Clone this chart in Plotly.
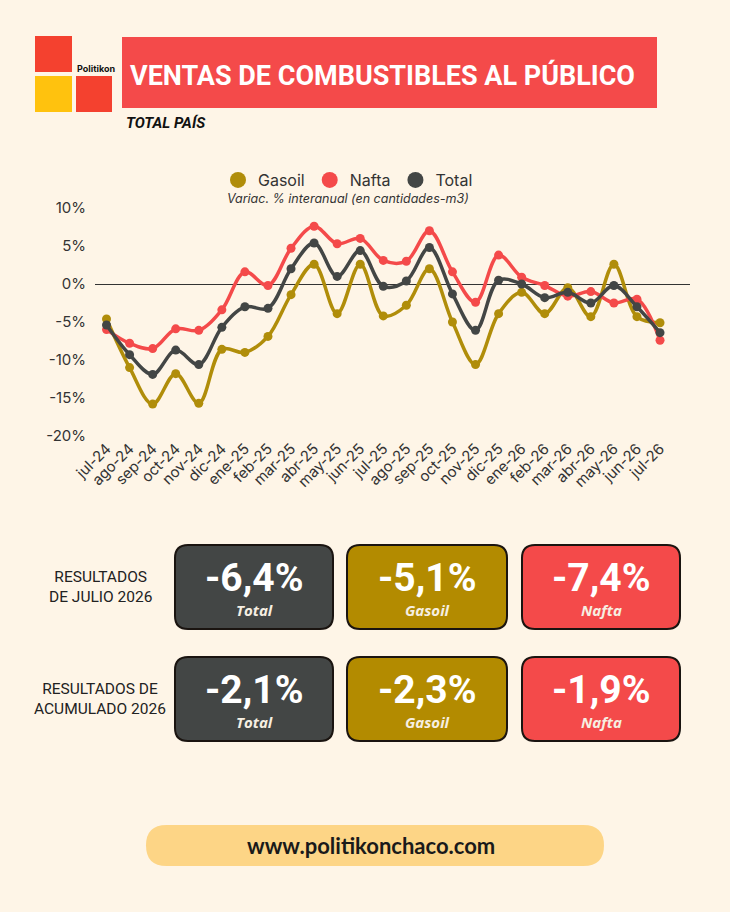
import plotly.graph_objects as go

# ---------------- data ----------------
months = ["jul-24", "ago-24", "sep-24", "oct-24", "nov-24", "dic-24", "ene-25", "feb-25",
          "mar-25", "abr-25", "may-25", "jun-25", "jul-25", "ago-25", "sep-25", "oct-25",
          "nov-25", "dic-25", "ene-26", "feb-26", "mar-26", "abr-26", "may-26", "jun-26",
          "jul-26"]
gasoil = [-4.6, -11.0, -15.8, -11.8, -15.7, -8.6, -9.0, -6.9, -1.4, 2.6, -3.9, 2.6,
          -4.2, -2.8, 2.0, -5.0, -10.6, -3.9, -1.1, -3.9, -0.5, -4.3, 2.6, -4.3, -5.1]
nafta = [-6.0, -7.8, -8.5, -5.9, -6.1, -3.4, 1.6, -0.2, 4.7, 7.6, 5.3, 6.0,
         3.1, 3.0, 7.0, 1.6, -2.4, 3.8, 0.9, -0.2, -1.6, -1.0, -2.5, -2.0, -7.4]
total = [-5.4, -9.3, -11.9, -8.7, -10.6, -5.7, -3.0, -3.2, 2.0, 5.4, 1.0, 4.4,
         -0.3, 0.4, 4.8, -1.3, -6.1, 0.5, 0.0, -1.8, -1.1, -2.5, -0.2, -3.0, -6.4]
y_ticks = [10, 5, 0, -5, -10, -15, -20]
y_tick_labels = ["10%", "5%", "0%", "-5%", "-10%", "-15%", "-20%"]

series_names = ["Gasoil", "Nafta", "Total"]
result_rows = ["RESULTADOS<br>DE JULIO 2026", "RESULTADOS DE<br>ACUMULADO 2026"]
result_month = ["-6,4%", "-5,1%", "-7,4%"]     # Total, Gasoil, Nafta
result_accum = ["-2,1%", "-2,3%", "-1,9%"]
result_labels = ["Total", "Gasoil", "Nafta"]

# ---------------- style ----------------
BG = "#FEF5E7"
C_GAS = "#B08D0A"
C_NAF = "#F44A4A"
C_TOT = "#434645"
BOX_GAS = "#B38B00"
W, H = 730, 912
ML, MR, MT, MB = 95, 40, 208, 476
PW = W - ML - MR
PH = H - MT - MB
COND = "Roboto, sans-serif"


def px(x):
    return (x - ML) / PW


def py(y):
    return (H - MB - y) / PH


def rrect(x0, y0, x1, y1, r):
    pts = [
        ("M", [(x0 + r, y0)]),
        ("L", [(x1 - r, y0)]),
        ("Q", [(x1, y0), (x1, y0 + r)]),
        ("L", [(x1, y1 - r)]),
        ("Q", [(x1, y1), (x1 - r, y1)]),
        ("L", [(x0 + r, y1)]),
        ("Q", [(x0, y1), (x0, y1 - r)]),
        ("L", [(x0, y0 + r)]),
        ("Q", [(x0, y0), (x0 + r, y0)]),
    ]
    s = ""
    for cmd, ps in pts:
        s += cmd + " " + " ".join(f"{px(a):.5f},{py(b):.5f}" for a, b in ps) + " "
    return s + "Z"


fig = go.Figure()

for name, vals, col in [("Gasoil", gasoil, C_GAS), ("Nafta", nafta, C_NAF), ("Total", total, C_TOT)]:
    fig.add_trace(go.Scatter(
        x=months, y=vals, mode="lines+markers", name=name, showlegend=False,
        line=dict(color=col, width=3.5, shape="spline", smoothing=1.0),
        marker=dict(color=col, size=9),
        hovertemplate="%{x}: %{y:.1f}%<extra>" + name + "</extra>",
    ))

for name, col in zip(series_names, [C_GAS, C_NAF, C_TOT]):
    fig.add_trace(go.Scatter(x=[None], y=[None], mode="markers", name=name,
                             marker=dict(color=col, size=16)))

shapes = []
annotations = []

# logo
shapes.append(dict(type="rect", xref="paper", yref="paper", x0=px(35), x1=px(72), y0=py(72), y1=py(36),
                   fillcolor="#F4412F", line=dict(width=0), layer="above"))
shapes.append(dict(type="rect", xref="paper", yref="paper", x0=px(35), x1=px(72), y0=py(112), y1=py(76),
                   fillcolor="#FFC20E", line=dict(width=0), layer="above"))
shapes.append(dict(type="rect", xref="paper", yref="paper", x0=px(76), x1=px(112), y0=py(112), y1=py(76),
                   fillcolor="#F4412F", line=dict(width=0), layer="above"))
annotations.append(dict(xref="paper", yref="paper", x=px(96), y=py(68), text="<b>Politikon</b>",
                        showarrow=False, font=dict(family="Inter, sans-serif", size=9, color="#111"),
                        xanchor="center", yanchor="middle"))

# title banner
shapes.append(dict(type="rect", xref="paper", yref="paper", x0=px(122), x1=px(657), y0=py(108), y1=py(37),
                   fillcolor=C_NAF, line=dict(width=0), layer="above"))
annotations.append(dict(xref="paper", yref="paper", x=px(128), y=py(75),
                        text="<b>VENTAS DE COMBUSTIBLES AL PÚBLICO</b>", showarrow=False,
                        font=dict(family=COND, size=27, color="white"), xanchor="left", yanchor="middle"))
annotations.append(dict(xref="paper", yref="paper", x=px(124), y=py(123),
                        text="<b><i>TOTAL PAÍS</i></b>", showarrow=False,
                        font=dict(family=COND, size=15, color="#111"), xanchor="left", yanchor="middle"))

# subtitle
annotations.append(dict(xref="paper", yref="paper", x=px(348), y=py(198),
                        text="<i>Variac. % interanual (en cantidades-m3)</i>", showarrow=False,
                        font=dict(family="Inter, sans-serif", size=12.5, color="#333"),
                        xanchor="center", yanchor="middle"))

# result boxes
box_x = [(175, 333), (347, 507), (522, 680)]
box_col = [C_TOT, BOX_GAS, C_NAF]
row_y = [(545, 629), (657, 741)]
for ri, (vals, rowlab) in enumerate([(result_month, result_rows[0]), (result_accum, result_rows[1])]):
    y0, y1 = row_y[ri]
    annotations.append(dict(xref="paper", yref="paper", x=px(100), y=py((y0 + y1) / 2),
                            text=rowlab, showarrow=False, align="center",
                            font=dict(family=COND, size=15.5, color="#222"),
                            xanchor="center", yanchor="middle"))
    for bi, (x0, x1) in enumerate(box_x):
        shapes.append(dict(type="path", xref="paper", yref="paper", path=rrect(x0, y0, x1, y1, 13),
                           fillcolor=box_col[bi], line=dict(color="#1A1410", width=2), layer="above"))
        cx = (x0 + x1) / 2
        annotations.append(dict(xref="paper", yref="paper", x=px(cx), y=py(y0 + 33),
                                text="<b>" + vals[bi] + "</b>", showarrow=False,
                                font=dict(family=COND, size=39, color="white"),
                                xanchor="center", yanchor="middle"))
        annotations.append(dict(xref="paper", yref="paper", x=px(cx), y=py(y0 + 65),
                                text="<b><i>" + result_labels[bi] + "</i></b>", showarrow=False,
                                font=dict(family="Open Sans, sans-serif", size=15, color="#F6EFE2"),
                                xanchor="center", yanchor="middle"))

# footer pill
shapes.append(dict(type="path", xref="paper", yref="paper", path=rrect(146, 825, 604, 866, 20.5),
                   fillcolor="#FDD586", line=dict(width=0), layer="above"))
annotations.append(dict(xref="paper", yref="paper", x=px(371), y=py(845),
                        text="<b>www.politikonchaco.com</b>", showarrow=False,
                        font=dict(family="Lato, sans-serif", size=22, color="#1A1A1A"),
                        xanchor="center", yanchor="middle"))

fig.update_layout(
    width=W, height=H,
    margin=dict(l=ML, r=MR, t=MT, b=MB),
    paper_bgcolor=BG, plot_bgcolor=BG,
    font=dict(family="Inter, sans-serif", color="#333"),
    showlegend=True,
    legend=dict(orientation="h", x=px(348), y=py(180), xanchor="center", yanchor="middle",
                font=dict(family="Inter, sans-serif", size=16, color="#333"),
                bgcolor="rgba(0,0,0,0)", itemwidth=30),
    xaxis=dict(type="category", range=[-0.5, 25.3], showgrid=False, showline=False,
               zeroline=False, tickangle=-45, tickfont=dict(size=15, color="#333"), ticks=""),
    yaxis=dict(range=[-20, 10], tickvals=y_ticks, ticktext=y_tick_labels, showgrid=False,
               zeroline=True, zerolinecolor="#333", zerolinewidth=1, showline=False,
               tickfont=dict(size=15, color="#333"), ticks="", ticklabelstandoff=8),
    shapes=shapes,
    annotations=annotations,
)

fig.write_html("out.html", config={"displayModeBar": False},
               post_script="document.body.style.margin='0';document.body.style.background='" + BG + "';")
